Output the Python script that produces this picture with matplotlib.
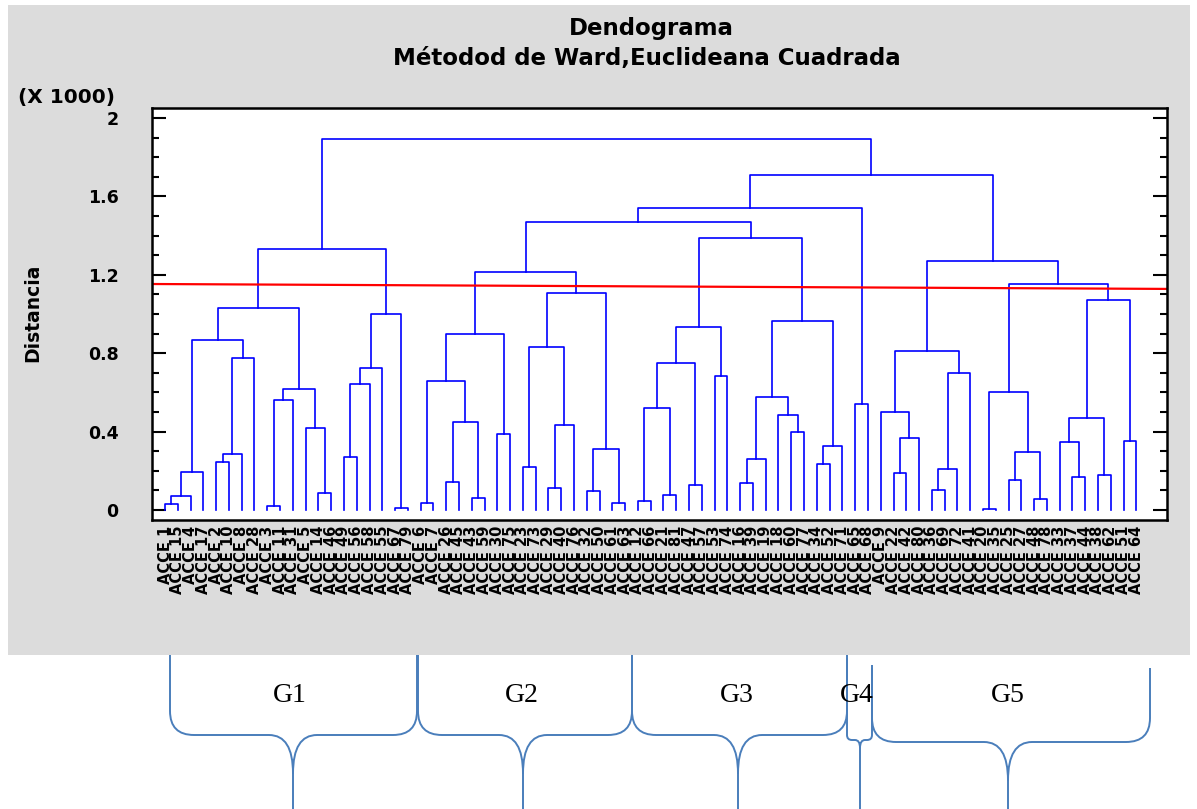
import matplotlib
matplotlib.use("Agg")
import matplotlib.pyplot as plt
from matplotlib.path import Path
from matplotlib.patches import PathPatch, Rectangle


leaf_labels = ["ACCE 1", "ACCE 15", "ACCE 4", "ACCE 17", "ACCE 2", "ACCE 10", "ACCE 8",
               "ACCE 28", "ACCE 3", "ACCE 11", "ACCE 31", "ACCE 5", "ACCE 14", "ACCE 46",
               "ACCE 49", "ACCE 56", "ACCE 58", "ACCE 55", "ACCE 67", "ACCE 79",
               "ACCE 6", "ACCE 7", "ACCE 26", "ACCE 45", "ACCE 43", "ACCE 59", "ACCE 30",
               "ACCE 75", "ACCE 23", "ACCE 73", "ACCE 29", "ACCE 40", "ACCE 76", "ACCE 32",
               "ACCE 50", "ACCE 61", "ACCE 63",
               "ACCE 12", "ACCE 66", "ACCE 21", "ACCE 81", "ACCE 47", "ACCE 57", "ACCE 53",
               "ACCE 74", "ACCE 16", "ACCE 39", "ACCE 19", "ACCE 18", "ACCE 60", "ACCE 77",
               "ACCE 34", "ACCE 52", "ACCE 71",
               "ACCE 65", "ACCE 68",
               "ACCE 9", "ACCE 22", "ACCE 42", "ACCE 80", "ACCE 36", "ACCE 69", "ACCE 72",
               "ACCE 41", "ACCE 20", "ACCE 35", "ACCE 25", "ACCE 27", "ACCE 48", "ACCE 78",
               "ACCE 33", "ACCE 37", "ACCE 44", "ACCE 38", "ACCE 62", "ACCE 51", "ACCE 64"]

# merges as (left, right, distance x1000); ints are leaf positions
g1 = (((((((0, 1, 0.031), 2, 0.071), 3, 0.194),
          (((4, 5, 0.245), 6, 0.286), 7, 0.776), 0.867),
         (((8, 9, 0.02), 10, 0.561), (11, (12, 13, 0.087), 0.418), 0.617), 1.031),
        ((((14, 15, 0.27), 16, 0.643), 17, 0.724), (18, 19, 0.01), 1.0), 1.332))
g2 = ((((20, 21, 0.036), ((22, 23, 0.143), (24, 25, 0.061), 0.45), 0.66), (26, 27, 0.387), 0.898),
      (((28, 29, 0.22), ((30, 31, 0.112), 32, 0.434), 0.832),
       ((33, 34, 0.097), (35, 36, 0.036), 0.31), 1.107), 1.214)
g3 = (((((37, 38, 0.046), (39, 40, 0.077), 0.52), (41, 42, 0.128), 0.75), (43, 44, 0.684), 0.932),
      ((((45, 46, 0.137), 47, 0.26), (48, (49, 50, 0.40), 0.485), 0.576),
       ((51, 52, 0.235), 53, 0.327), 0.966), 1.388)
g4 = (54, 55, 0.54)
g5 = (((56, ((57, 58, 0.189), 59, 0.367), 0.50), (((60, 61, 0.10), 62, 0.209), 63, 0.70), 0.81),
      (((64, 65, 0.005), ((66, 67, 0.153), (68, 69, 0.055), 0.295), 0.60),
       (((70, (71, 72, 0.168), 0.347), (73, 74, 0.178), 0.469), (75, 76, 0.352), 1.07), 1.153),
      1.27)
tree = (g1, (((g2, g3, 1.47), g4, 1.54), g5, 1.71), 1.893)

cut_line = [1.153, 1.128]
y_ticks = [0, 0.4, 0.8, 1.2, 1.6, 2.0]
y_tick_labels = ["0", "0.4", "0.8", "1.2", "1.6", "2"]
group_names = ["G1", "G2", "G3", "G4", "G5"]


fig = plt.figure(figsize=(11.97, 8.09), dpi=100)

# pixel overlay for the gray panel, titles and braces
bg = fig.add_axes([0, 0, 1, 1], zorder=0)
bg.set_xlim(0, 1197)
bg.set_ylim(809, 0)
bg.axis("off")
bg.add_patch(Rectangle((8, 5), 1182, 650, color="#dcdcdc", lw=0))

bg.text(651, 28, "Dendograma", ha="center", va="center", fontsize=16.5, fontweight="bold")
bg.text(647, 58, "Métodod de Ward,Euclideana Cuadrada", ha="center", va="center",
        fontsize=16.5, fontweight="bold")
bg.text(66, 97, "(X 1000)", ha="center", va="center", fontsize=14.5, fontweight="bold")
bg.text(33, 313, "Distancia", ha="center", va="center", rotation=90,
        fontsize=13.5, fontweight="bold")

ax = fig.add_axes([152 / 1197, 1 - 520 / 809, (1167 - 152) / 1197, (520 - 108) / 809], zorder=1)
ax.set_facecolor("white")


def draw(node):
    if isinstance(node, int):
        return node, 0.0
    left, right, h = node
    xl, hl = draw(left)
    xr, hr = draw(right)
    ax.plot([xl, xl, xr, xr], [hl, h, h, hr], color="#0000ff", lw=1.2)
    return (xl + xr) / 2, h


draw(tree)

xmin, xmax = -1.02, 78.4
ax.plot([xmin, xmax], cut_line, color="red", lw=1.6)
ax.set_xlim(xmin, xmax)
ax.set_ylim(-0.051, 2.051)

ax.set_xticks(range(len(leaf_labels)))
ax.set_xticklabels(leaf_labels, rotation=90, fontsize=10.5, fontweight="bold")
ax.tick_params(axis="x", length=0, pad=4)

ax.set_yticks(y_ticks)
ax.set_yticklabels(y_tick_labels, fontsize=12.5, fontweight="bold")
ax.set_yticks([v / 10 for v in range(21)], minor=True)
ax.tick_params(axis="y", which="both", direction="in", left=True, right=True, width=1.5)
ax.tick_params(axis="y", which="major", length=10, pad=24)
ax.tick_params(axis="y", which="minor", length=5)
for s in ax.spines.values():
    s.set_linewidth(1.8)

# braces under the chart
brace_color = "#4a7ebb"
braces = [(170, 417, 655, 655, 735, 293, 24),
          (418, 632, 655, 655, 735, 523, 24),
          (632, 847, 655, 655, 735, 738, 24),
          (847, 872, 658, 665, 740, 860, 5),
          (872, 1150, 668, 668, 742, 1008, 24)]
text_x = [290, 522, 737, 857, 1008]

for (l, r, tl, tr, ym, c, rad), name, tx in zip(braces, group_names, text_x):
    dip = rad * 1.6
    verts = [(l, tl), (l, ym - rad), (l, ym), (l + rad, ym), (c - rad, ym), (c, ym), (c, ym + dip), (c, 809),
             (r, tr), (r, ym - rad), (r, ym), (r - rad, ym), (c + rad, ym), (c, ym), (c, ym + dip)]
    codes = [Path.MOVETO, Path.LINETO, Path.CURVE3, Path.CURVE3, Path.LINETO, Path.CURVE3, Path.CURVE3,
             Path.LINETO, Path.MOVETO, Path.LINETO, Path.CURVE3, Path.CURVE3, Path.LINETO, Path.CURVE3,
             Path.CURVE3]
    bg.add_patch(PathPatch(Path(verts, codes), fill=False, ec=brace_color, lw=1.4))
    bg.text(tx, 695, name, ha="center", va="center", fontsize=20, family="Liberation Serif")

plt.savefig("out.png", dpi=100)
